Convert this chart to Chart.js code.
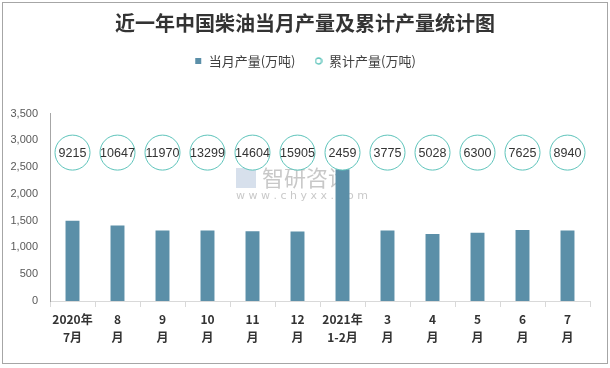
<!DOCTYPE html>
<html>
<head>
<meta charset="utf-8">
<script src="https://cdn.jsdelivr.net/npm/chart.js@4/dist/chart.umd.min.js"></script>
<style>
    html, body { margin: 0; padding: 0; background: #fff; }
    #wrap { position: relative; width: 610px; height: 368px; }
    #frame { position: absolute; left: 2px; top: 2px; width: 604px; height: 360px; border: 1px solid #a6a6a6; pointer-events: none; }
</style>
</head>
<body>
<div id="wrap">
    <canvas id="chart" width="610" height="368"></canvas>
    <div id="frame"></div>
</div>
<script>
// 近一年中国柴油当月产量及累计产量
const categories = [
    ['2020年', '7月'], ['8', '月'], ['9', '月'], ['10', '月'], ['11', '月'], ['12', '月'],
    ['2021年', '1-2月'], ['3', '月'], ['4', '月'], ['5', '月'], ['6', '月'], ['7', '月']
];
const monthlyOutput = [1500, 1410, 1315, 1315, 1300, 1298, 2459, 1316, 1253, 1272, 1325, 1315];
const cumulativeOutput = [9215, 10647, 11970, 13299, 14604, 15905, 2459, 3775, 5028, 6300, 7625, 8940];
const yTicks = [0, 500, 1000, 1500, 2000, 2500, 3000, 3500];
const ringLevel = 2770; // circles sit on one row, labels carry the value

const barColor = '#5b8fa8';
const ringColor = '#5cc3ba';

// small legend markers
function makeMarker(kind) {
    const c = document.createElement('canvas');
    c.width = 8;
    c.height = 8;
    const g = c.getContext('2d');
    if (kind === 'rect') {
        g.fillStyle = barColor;
        g.fillRect(1, 1, 6, 6);
    } else {
        g.strokeStyle = ringColor;
        g.lineWidth = 1.3;
        g.beginPath();
        g.arc(4, 4, 3, 0, Math.PI * 2);
        g.stroke();
    }
    return c;
}
const markers = [makeMarker('rect'), makeMarker('ring')];

// labels inside the circles + faint watermark
const ringLabels = {
    id: 'ringLabels',
    afterDatasetsDraw(chart) {
        const ctx = chart.ctx;
        const meta = chart.getDatasetMeta(1);
        ctx.save();
        ctx.font = '12.5px "Liberation Sans", Arial, sans-serif';
        ctx.fillStyle = '#333';
        ctx.textAlign = 'center';
        ctx.textBaseline = 'middle';
        meta.data.forEach((pt, i) => {
            ctx.fillText(String(cumulativeOutput[i]), pt.x, pt.y + 1);
        });
        ctx.restore();
    },
    beforeDatasetsDraw(chart) {
        const ctx = chart.ctx;
        ctx.save();
        ctx.globalAlpha = 0.55;
        ctx.fillStyle = '#b7c6dc';
        ctx.fillRect(236, 168, 20, 20);
        ctx.fillStyle = '#9a9a9a';
        ctx.font = '22px "Noto Sans CJK SC", sans-serif';
        ctx.textBaseline = 'middle';
        ctx.fillText('智研咨询', 262, 178);
        ctx.font = '11px "DejaVu Sans", sans-serif';
        ctx.fillText('w w w . c h y x x . c o m', 236, 196);
        ctx.restore();
    }
};

// extra room between the legend and the plot
const legendGap = {
    id: 'legendGap',
    beforeInit(chart) {
        const origFit = chart.legend.fit;
        chart.legend.fit = function fit() {
            origFit.bind(chart.legend)();
            this.height += 36;
        };
    }
};

new Chart(document.getElementById('chart'), {
    type: 'bar',
    data: {
        labels: categories,
        datasets: [
            {
                type: 'bar',
                label: '当月产量(万吨)',
                data: monthlyOutput,
                backgroundColor: barColor,
                borderWidth: 0,
                barPercentage: 0.62,
                categoryPercentage: 0.5,
                order: 2
            },
            {
                type: 'line',
                label: '累计产量(万吨)',
                data: monthlyOutput.map(() => ringLevel),
                showLine: false,
                pointStyle: 'circle',
                pointRadius: 17.5,
                pointHoverRadius: 17.5,
                pointBackgroundColor: '#fff',
                pointBorderColor: ringColor,
                pointBorderWidth: 1,
                backgroundColor: '#fff',
                borderColor: ringColor,
                order: 1
            }
        ]
    },
    options: {
        responsive: false,
        animation: false,
        layout: { padding: { left: 0, right: 0, top: 3, bottom: 8 } },
        plugins: {
            title: {
                display: true,
                text: '近一年中国柴油当月产量及累计产量统计图',
                color: '#333',
                font: { family: '"Noto Sans CJK SC", sans-serif', size: 20, weight: 'bold' },
                padding: { top: 8.5, bottom: 0 }
            },
            legend: {
                display: true,
                position: 'top',
                labels: {
                    usePointStyle: true,
                    boxWidth: 8,
                    boxHeight: 8,
                    padding: 19,
                    color: '#404040',
                    font: { family: '"Noto Sans CJK SC", sans-serif', size: 13 },
                    generateLabels(chart) {
                        return chart.data.datasets.map((ds, i) => ({
                            text: ds.label,
                            fillStyle: i === 0 ? barColor : '#fff',
                            strokeStyle: i === 0 ? barColor : ringColor,
                            lineWidth: 0,
                            pointStyle: markers[i],
                            datasetIndex: i,
                            fontColor: '#404040'
                        }));
                    }
                }
            },
            tooltip: { enabled: false }
        },
        scales: {
            x: {
                offset: true,
                grid: {
                    offset: true,
                    display: true,
                    drawOnChartArea: false,
                    drawTicks: true,
                    tickLength: 6,
                    color: '#d9d9d9'
                },
                border: { display: true, color: '#d9d9d9' },
                ticks: {
                    color: '#333',
                    font: { family: '"Noto Sans CJK SC", sans-serif', size: 12, weight: 'bold', lineHeight: 1.5 },
                    maxRotation: 0,
                    autoSkip: false,
                    padding: 3
                },
                afterFit(axis) { axis.height = 59; }
            },
            y: {
                min: 0,
                max: 3500,
                afterBuildTicks(axis) { axis.ticks = yTicks.map(v => ({ value: v })); },
                grid: { display: false, drawTicks: false },
                border: { display: true, color: '#a6a6a6' },
                ticks: {
                    color: '#595959',
                    font: { family: '"Liberation Sans", Arial, sans-serif', size: 11 },
                    padding: 12,
                    callback: v => v.toLocaleString('en-US')
                },
                afterFit(axis) { axis.width = 50; }
            },
            // empty right margin so title and legend centre on the full width
            yRight: {
                position: 'right',
                display: true,
                min: 0,
                max: 3500,
                grid: { display: false, drawTicks: false },
                border: { display: false },
                ticks: { display: false },
                afterFit(axis) { axis.width = 20; }
            }
        }
    },
    plugins: [ringLabels, legendGap]
});
</script>
</body>
</html>
